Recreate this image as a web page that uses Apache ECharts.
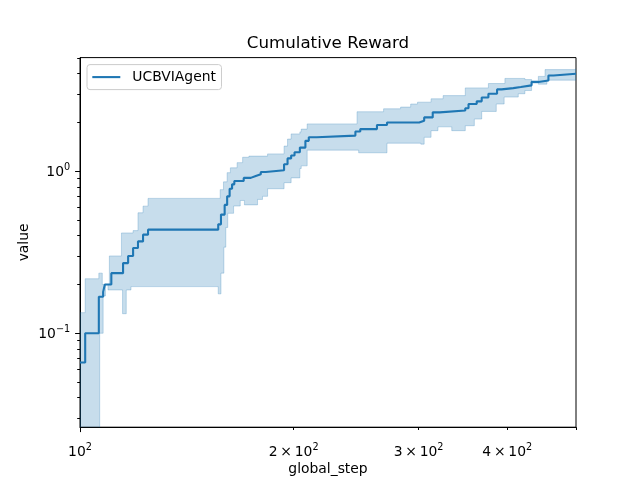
<!DOCTYPE html>
<html>
<head>
<meta charset="utf-8">
<script src="https://cdn.jsdelivr.net/npm/echarts@6/dist/echarts.min.js"></script>
<style>
  html, body { margin: 0; padding: 0; background: #fff; }
  #chart { width: 640px; height: 480px; }
</style>
</head>
<body>
<div id="chart"></div>
<script>
// readings: global_step -> cumulative reward (value holds until next step)
const meanStep = [100, 101.7, 106.3, 107.8, 108.4, 110.7, 115, 116.9, 118.8, 120.7, 122.7, 124.7, 156.6, 158.0, 159.9, 161.2, 162.5, 163.8, 165.0, 170.1, 174.0, 176.9, 179.8, 182.7, 193.9, 196.1, 198.4, 200.6, 204.1, 207.8, 210.1, 215.6, 244.4, 248.3, 262.1, 270.8, 300.6, 305.5, 314.1, 321.2, 349.1, 352.8, 362.3, 368.2, 376.3, 387.0, 392.7, 408.0, 418.0, 432.9, 442.5, 457.2, 464.8, 500];
const meanValue = [0.066, 0.1, 0.168, 0.18, 0.2, 0.235, 0.271, 0.30, 0.336, 0.369, 0.406, 0.436, 0.47, 0.54, 0.62, 0.70, 0.78, 0.83, 0.87, 0.91, 0.935, 0.958, 0.99, 1.015, 1.105, 1.2, 1.25, 1.31, 1.40, 1.54, 1.62, 1.66, 1.76, 1.82, 1.93, 2.0, 2.05, 2.15, 2.31, 2.37, 2.45, 2.6, 2.7, 2.85, 3.01, 3.2, 3.26, 3.31, 3.39, 3.56, 3.63, 3.9, 4.0, 4.0];

const upperStep = [100, 101.7, 106.3, 107.5, 110.0, 114.4, 118.8, 120.7, 122.7, 124.7, 157.6, 159.3, 161.2, 162.9, 166.5, 169.5, 173.0, 183.8, 193.9, 196.1, 198.4, 204.1, 205.0, 209.0, 245.7, 267.8, 283.0, 292.4, 299.0, 312.4, 324.9, 349.1, 376.3, 397.0, 423.6, 432.9, 442.5, 452.2, 500];
const upperValue = [0.134, 0.217, 0.235, 0.2, 0.30, 0.416, 0.43, 0.554, 0.609, 0.68, 0.77, 0.86, 0.98, 1.05, 1.13, 1.22, 1.24, 1.28, 1.43, 1.58, 1.70, 1.75, 1.82, 1.96, 2.33, 2.43, 2.49, 2.6, 2.67, 2.80, 2.93, 3.27, 3.48, 3.74, 3.68, 3.58, 3.85, 4.24, 4.3];

const lowerStep = [100, 106.6, 107.8, 108.6, 109.5, 114.8, 116.2, 118.0, 156.6, 158.0, 159.5, 160.5, 161.5, 164.6, 168.2, 170.5, 177.9, 180.8, 183.8, 193.9, 198.4, 204.1, 205.0, 209.0, 247.0, 270.8, 302.2, 305.5, 312.4, 319.5, 334.1, 349.1, 359.5, 368.2, 386.0, 396.0, 414.6, 423.6, 432.9, 442.5, 455.0, 500];
const lowerValue = [0.005, 0.1, 0.17, 0.2, 0.185, 0.132, 0.185, 0.194, 0.175, 0.235, 0.34, 0.45, 0.55, 0.61, 0.66, 0.62, 0.67, 0.70, 0.78, 0.85, 0.91, 1.04, 1.08, 1.35, 1.30, 1.49, 1.47, 1.62, 1.78, 1.88, 1.78, 1.91, 2.1, 2.34, 2.6, 2.87, 3.01, 3.15, 3.5, 3.45, 3.65, 3.67];

const xRange = [100, 500];
const yRange = [0.0263, 5.03];
const xMajorTicks = [100];
const xMinorTicks = [200, 300, 400, 500];
const xTickLabels = { 100: '{b|10}{s|2}', 200: '{b|2\u2009×\u200910}{s|2}', 300: '{b|3\u2009×\u200910}{s|2}', 400: '{b|4\u2009×\u200910}{s|2}' };
const yMajorTicks = [0.1, 1];
const yMinorTicks = [0.03, 0.04, 0.05, 0.06, 0.07, 0.08, 0.09, 0.2, 0.3, 0.4, 0.5, 0.6, 0.7, 0.8, 0.9, 2, 3, 4, 5];
const yTickLabels = { '0.1': '{b|10}{s|\u22121}', '1': '{b|10}{s|0}' };

const FONT = 'DejaVu Sans';
const BLUE = '#1f77b4';
const lg = Math.log10;

// points of a step curve (value held until the next step), in log space
const stepPoints = (xs, ys) => {
  const pts = [];
  xs.forEach((x, i) => {
    pts.push([lg(x), lg(ys[i])]);
    if (i < xs.length - 1) pts.push([lg(xs[i + 1]), lg(ys[i])]);
  });
  return pts;
};

const labelOf = (table, v) => table[String(Number(Math.pow(10, v).toPrecision(3)))] || '';

const tickStyle = { color: '#000', width: 1 };
const labelStyle = { color: '#000', fontSize: 13.9, fontFamily: FONT };
const supRich = {
  b: { color: '#000', fontSize: 13.9, fontFamily: FONT, lineHeight: 17, verticalAlign: 'bottom' },
  s: { color: '#000', fontSize: 9.7, fontFamily: FONT, lineHeight: 10, verticalAlign: 'top' }
};

const chart = echarts.init(document.getElementById('chart'));
chart.setOption({
  animation: false,
  textStyle: { fontFamily: FONT },
  title: {
    text: 'Cumulative Reward',
    left: 328,
    top: 35,
    textAlign: 'center',
    padding: 0,
    textStyle: { fontSize: 16.67, fontWeight: 'normal', color: '#000', fontFamily: FONT }
  },
  legend: {
    data: ['UCBVIAgent'],
    left: 87,
    top: 64.6,
    padding: [5.5, 5.5, 5.5, 5.3],
    icon: 'rect',
    itemWidth: 28,
    itemHeight: 2.1,
    selectedMode: false,
    backgroundColor: 'rgba(255,255,255,0.8)',
    borderColor: '#cccccc',
    borderWidth: 1,
    borderRadius: 3,
    itemStyle: { color: BLUE },
    textStyle: { color: '#000', fontSize: 13.9, fontFamily: FONT, padding: [0, 0, 0, 7] }
  },
  grid: {
    left: 80, right: 64, top: 57.6, bottom: 52.8,
    show: true, borderColor: '#000', borderWidth: 1,
    outerBoundsMode: 'none'
  },
  xAxis: [
    {
      type: 'value', position: 'bottom',
      min: lg(xRange[0]), max: lg(xRange[1]),
      axisLine: { show: true, onZero: false, lineStyle: tickStyle },
      axisTick: { show: true, customValues: xMajorTicks.map(lg), length: 4.9, lineStyle: tickStyle },
      axisLabel: {
        customValues: [100, 200, 300, 400].map(lg),
        formatter: v => xTickLabels[Math.round(Math.pow(10, v))] || '',
        margin: 15, rich: supRich, ...labelStyle
      },
      splitLine: { show: false },
      name: 'global_step', nameLocation: 'middle', nameGap: 35,
      nameMoveOverlap: false,
      nameTextStyle: labelStyle
    },
    {
      type: 'value', position: 'bottom',
      min: lg(xRange[0]), max: lg(xRange[1]),
      axisLine: { show: false, onZero: false },
      axisTick: { show: true, customValues: xMinorTicks.map(lg), length: 2.8, lineStyle: tickStyle },
      axisLabel: { show: false },
      splitLine: { show: false }
    }
  ],
  yAxis: [
    {
      type: 'value', position: 'left',
      min: lg(yRange[0]), max: lg(yRange[1]),
      axisLine: { show: true, onZero: false, lineStyle: tickStyle },
      axisTick: { show: true, customValues: yMajorTicks.map(lg), length: 4.9, lineStyle: tickStyle },
      axisLabel: {
        customValues: yMajorTicks.map(lg),
        formatter: v => labelOf(yTickLabels, v),
        margin: 9.8, rich: supRich, ...labelStyle
      },
      splitLine: { show: false },
      name: 'value', nameLocation: 'middle', nameGap: 49, nameRotate: 90,
      nameMoveOverlap: false,
      nameTextStyle: labelStyle
    },
    {
      type: 'value', position: 'left',
      min: lg(yRange[0]), max: lg(yRange[1]),
      axisLine: { show: false, onZero: false },
      axisTick: { show: true, customValues: yMinorTicks.map(lg), length: 2.8, lineStyle: tickStyle },
      axisLabel: { show: false },
      splitLine: { show: false }
    }
  ],
  series: [
    {
      type: 'custom',
      name: 'band',
      silent: true,
      z: 1,
      data: [[lg(xRange[0]), 0]],
      renderItem: (params, api) => {
        const pts = stepPoints(upperStep, upperValue)
          .concat(stepPoints(lowerStep, lowerValue).reverse())
          .map(p => api.coord(p));
        const cs = params.coordSys;
        return {
          type: 'polygon',
          shape: { points: pts },
          style: { fill: 'rgba(31,119,180,0.25)', stroke: 'rgba(31,119,180,0.25)', lineWidth: 1 },
          clipPath: { type: 'rect', shape: { x: cs.x, y: cs.y, width: cs.width, height: cs.height } }
        };
      }
    },
    {
      type: 'line',
      name: 'UCBVIAgent',
      step: 'end',
      symbol: 'none',
      z: 3,
      data: meanStep.map((s, i) => [lg(s), lg(meanValue[i])]),
      lineStyle: { color: BLUE, width: 2.1 },
      itemStyle: { color: BLUE }
    }
  ]
});
</script>
</body>
</html>
